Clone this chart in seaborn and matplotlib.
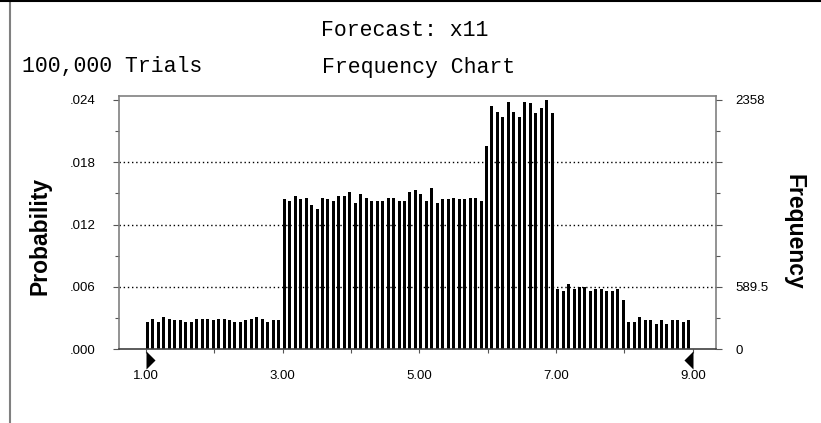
import numpy as np
import pandas as pd
import matplotlib
matplotlib.use("Agg")
import matplotlib.pyplot as plt
import matplotlib.ticker as mticker
import matplotlib.transforms as mtrans
from matplotlib.lines import Line2D
import seaborn as sns

# ---------------- data ----------------
trials = 100000
bin_start = 1.00
bin_width = 0.08
freq = [
    255, 287, 255, 308, 289, 277, 277, 255, 255, 289, 289, 289, 277,
    289, 289, 277, 255, 255, 277, 289, 308, 289, 255, 277, 277,
    1419, 1403, 1453, 1419, 1434, 1365, 1330, 1434, 1419, 1403, 1453,
    1453, 1488, 1384, 1469, 1434, 1403, 1403, 1403,
    1434, 1434, 1403, 1403, 1488, 1504, 1469, 1403, 1523, 1384, 1419,
    1419, 1434, 1419, 1419, 1434, 1434, 1403,
    1920, 2298, 2247, 2197, 2340, 2247, 2197, 2340, 2325, 2232, 2282, 2358, 2232,
    567, 551, 620, 567, 586, 586, 551, 567, 567, 551, 551, 567,
    464,
    255, 255, 308, 274, 274, 239, 274, 239, 274, 274, 255, 274,
]
freq_ticks = [0, 589.5, 1179, 1768.5, 2358]
freq_tick_labels = ["0", "589.5", "", "", "2358"]
grid_levels = [589.5, 1179, 1768.5]
x_ticks = [1, 2, 3, 4, 5, 6, 7, 8, 9]
x_tick_labels = ["1.00", "", "3.00", "", "5.00", "", "7.00", "", "9.00"]
certainty = [1.00, 9.00]

title = "Forecast: x11"
left_text = "100,000 Trials"
chart_text = "Frequency Chart"

# ---------------- figure ----------------
plt.rcParams["font.family"] = ["Liberation Sans", "DejaVu Sans"]
W, H = 821, 423
fig = plt.figure(figsize=(W / 100, H / 100), dpi=100)
fig.patch.set_facecolor("white")

L, R, T, B = 118.5, 716, 95.7, 349.3
ax = fig.add_axes([L / W, 1 - B / H, (R - L) / W, (B - T) / H])

lower_edges = bin_start + bin_width * np.arange(len(freq))
bar_frac = 0.55
df = pd.DataFrame({"x": lower_edges + bin_width * bar_frac / 2, "freq": freq})
sns.barplot(data=df, x="x", y="freq", native_scale=True, width=bar_frac,
            color="black", saturation=1, linewidth=0, ax=ax, zorder=2)

# limits (x: 1.00 at px 146, 68.35 px per unit)
px_per_unit = 68.35
ax.set_xlim(1 + (L - 146) / px_per_unit, 1 + (R - 146) / px_per_unit)
top_val = 2358 + (100 - T) * 2358 / (B - 100)
ax.set_ylim(0, top_val)

for g in grid_levels:
    ax.axhline(g, color="black", lw=1.0, ls=(0, (1, 2)), zorder=1)

for s in ["left", "right", "top"]:
    ax.spines[s].set_color("#808080")
    ax.spines[s].set_linewidth(1.2)
ax.spines["bottom"].set_color("#404040")
ax.spines["bottom"].set_linewidth(1.2)

TS = 9.5
# left axis: probability
ax.yaxis.set_major_locator(mticker.FixedLocator(freq_ticks))
ax.yaxis.set_major_formatter(mticker.FuncFormatter(
    lambda v, p: f"{v / trials:.3f}".lstrip("0")))
ax.yaxis.set_minor_locator(mticker.FixedLocator(
    [(a + b) / 2 for a, b in zip(freq_ticks[:-1], freq_ticks[1:])]))
ax.tick_params(axis="y", which="major", direction="out", length=4.5,
               width=0.8, color="#555555", pad=12, labelsize=TS,
               labelfontfamily="Liberation Sans")
ax.tick_params(axis="y", which="minor", direction="out", length=3,
               width=0.8, color="#555555")

# x axis
ax.set_xticks(x_ticks)
ax.set_xticklabels(x_tick_labels)
ax.tick_params(axis="x", direction="out", length=3, width=0.8,
               color="#555555", pad=12, labelsize=TS,
               labelfontfamily="Liberation Sans")
ax.set_xlabel("")
ax.set_ylabel("")

# right axis: frequency
ax2 = ax.twinx()
ax2.set_ylim(ax.get_ylim())
ax2.yaxis.set_major_locator(mticker.FixedLocator(freq_ticks))
ax2.yaxis.set_major_formatter(mticker.FixedFormatter(freq_tick_labels))
ax2.yaxis.set_minor_locator(mticker.FixedLocator(
    [(a + b) / 2 for a, b in zip(freq_ticks[:-1], freq_ticks[1:])]))
ax2.tick_params(axis="y", which="major", direction="out", length=4,
                width=0.8, color="#555555", pad=10, labelsize=TS,
                labelfontfamily="Liberation Sans")
ax2.tick_params(axis="y", which="minor", direction="out", length=3,
                width=0.8, color="#555555")
for s in ax2.spines.values():
    s.set_visible(False)

# certainty grabbers
trans = mtrans.blended_transform_factory(ax.transData, ax.transAxes)
tri_r = [(0, -1), (0, 1), (1, 0), (0, -1)]
tri_l = [(0, -1), (0, 1), (-1, 0), (0, -1)]
yoff = -10.7 / (B - T)
ax.plot([certainty[0]], [yoff], marker=tri_r, ms=13, color="black",
        mew=0, transform=trans, clip_on=False, ls="none")
ax.plot([certainty[1]], [yoff], marker=tri_l, ms=13, color="black",
        mew=0, transform=trans, clip_on=False, ls="none")

# texts
mono = dict(family="Liberation Mono", size=15.5, color="black")
fig.text(405 / W, 1 - 30 / H, title, ha="center", va="center", **mono)
fig.text(22 / W, 1 - 67 / H, left_text, ha="left", va="center", **mono)
fig.text(322 / W, 1 - 67 / H, chart_text, ha="left", va="center", **mono)

lab_font = dict(family="Liberation Sans", size=16.5, weight="bold")
fig.text(40 / W, 1 - 236 / H, "Probability", rotation=90, ha="center",
         va="center", **lab_font)
fig.text(794 / W, 1 - 232 / H, "Frequency", rotation=270, ha="center",
         va="center", **lab_font)

# outer frame lines
fig.add_artist(Line2D([9.5 / W, 9.5 / W], [0, 1], color="#808080", lw=1.5,
                      transform=fig.transFigure))
fig.add_artist(Line2D([0, 1], [1 - 0.8 / H, 1 - 0.8 / H], color="black",
                      lw=1.5, transform=fig.transFigure))

fig.savefig("out.png", dpi=100, facecolor="white")
